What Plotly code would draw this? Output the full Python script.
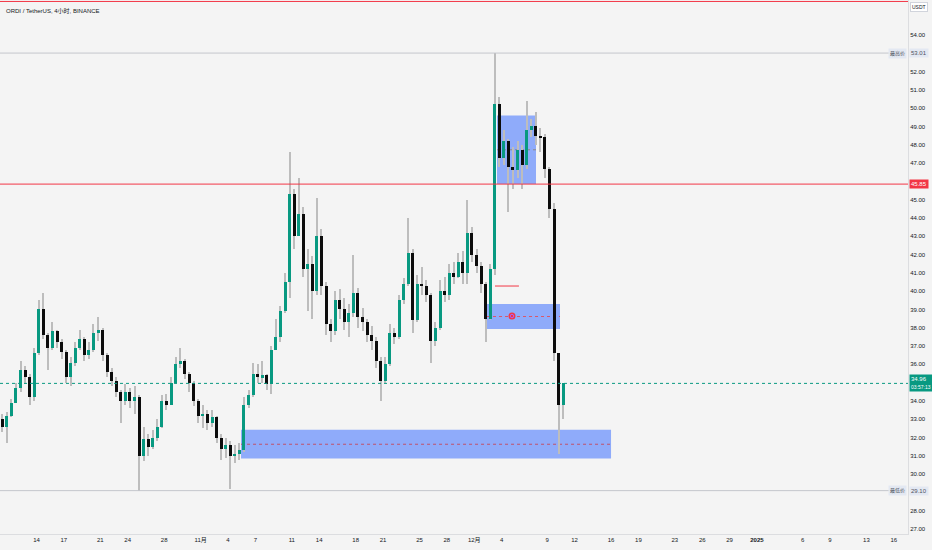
import pandas as pd
import plotly.graph_objects as go

# ORDI / USDT (grouped as 12h candles from 2024-10-10)
opens = [33.0, 32.6, 33.2, 33.9, 34.7, 35.7, 35.3, 34.2, 36.6, 39.0, 37.6, 36.9, 37.8, 37.2, 36.7, 35.3,
         36.1, 36.9, 37.4, 36.5, 36.8, 37.7, 37.9, 36.5, 35.6, 35.1, 34.5, 34.0, 34.5, 34.0, 34.2, 31.0,
         31.9, 31.5, 32.0, 32.6, 34.0, 33.8, 35.0, 36.0, 36.2, 35.5, 35.0, 34.0, 33.2, 33.3, 32.8, 33.1,
         32.0, 31.4, 31.6, 31.0, 31.1, 31.3, 33.8, 34.3, 35.5, 35.3, 35.4, 34.9, 36.8, 37.5, 38.9, 40.5,
         45.3, 43.0, 44.2, 41.2, 41.5, 40.0, 43.0, 40.3, 38.2, 37.8, 39.5, 39.0, 38.3, 38.8, 39.9, 38.6,
         38.3, 37.6, 37.3, 36.2, 35.1, 36.0, 37.7, 37.5, 39.5, 40.4, 42.1, 38.4, 40.4, 40.3, 39.8, 37.3,
         38.0, 40.0, 39.8, 41.0, 40.8, 41.6, 41.0, 43.2, 42.0, 41.4, 40.4, 38.5, 41.2, 50.2, 47.3, 48.2,
         46.8, 46.6, 47.7, 46.9, 48.8, 49.0, 48.5, 48.4, 46.7, 44.5, 36.6, 33.8]
highs = [33.3, 33.4, 34.1, 35.0, 36.2, 35.9, 35.5, 36.9, 39.5, 39.9, 37.7, 38.3, 37.9, 37.4, 36.8, 36.4,
         37.2, 37.9, 37.5, 37.2, 38.2, 38.6, 38.0, 36.6, 35.8, 35.3, 34.6, 34.9, 34.7, 34.8, 34.3, 32.6,
         32.2, 32.4, 33.0, 34.3, 34.4, 35.3, 36.4, 36.9, 36.3, 35.6, 35.1, 34.1, 33.8, 33.5, 33.5, 33.2,
         32.2, 32.0, 31.8, 31.6, 31.7, 34.2, 34.6, 36.1, 36.0, 36.2, 35.5, 37.0, 38.5, 39.2, 41.0, 47.6,
         45.6, 46.2, 44.6, 42.3, 41.9, 45.1, 43.4, 40.5, 38.5, 40.0, 40.1, 39.6, 39.3, 42.0, 40.2, 39.1,
         38.5, 38.1, 37.5, 36.4, 36.4, 38.2, 38.0, 39.8, 40.7, 44.0, 42.3, 40.9, 41.3, 40.6, 39.9, 38.3,
         40.6, 40.8, 41.5, 41.6, 42.1, 42.2, 45.0, 43.5, 42.3, 41.6, 40.5, 41.5, 53.01, 50.6, 48.8, 48.3,
         47.9, 48.2, 48.0, 50.4, 49.4, 49.8, 48.9, 48.6, 46.8, 44.8, 36.6, 35.0]
lows = [32.3, 31.7, 33.1, 33.9, 34.5, 34.9, 33.8, 34.0, 36.5, 37.4, 35.7, 36.8, 36.9, 36.3, 35.0, 34.8,
        35.9, 36.8, 36.2, 36.3, 36.7, 37.3, 36.2, 35.3, 34.8, 34.2, 32.8, 33.8, 33.6, 33.3, 29.1, 30.7,
        31.0, 31.4, 31.8, 32.5, 33.5, 33.8, 34.9, 35.8, 35.2, 34.5, 33.7, 32.8, 32.5, 32.4, 32.6, 31.7,
        30.8, 30.9, 29.2, 30.6, 30.8, 31.2, 33.6, 34.2, 35.0, 35.0, 34.6, 34.4, 37.0, 37.2, 38.8, 39.6,
        42.3, 43.0, 40.8, 38.9, 38.5, 39.8, 39.8, 37.6, 37.2, 37.6, 38.5, 37.9, 37.5, 38.6, 38.0, 37.8,
        37.2, 36.8, 35.8, 34.0, 35.0, 35.9, 37.1, 37.4, 39.3, 40.3, 37.7, 38.3, 39.8, 39.4, 36.1, 37.0,
        37.9, 39.4, 39.5, 40.4, 40.7, 40.4, 40.4, 41.6, 41.0, 39.9, 37.2, 38.4, 40.9, 46.8, 46.9, 44.3,
        45.6, 46.2, 45.6, 46.7, 48.4, 48.0, 47.6, 46.2, 44.0, 36.2, 31.1, 33.0]
closes = [32.6, 33.2, 33.9, 34.7, 35.7, 35.3, 34.2, 36.6, 39.0, 37.6, 36.9, 37.8, 37.2, 36.7, 35.3, 36.1,
          36.9, 37.4, 36.5, 36.8, 37.7, 37.9, 36.5, 35.6, 35.1, 34.5, 34.0, 34.5, 34.0, 34.2, 31.0, 31.9,
          31.5, 32.0, 32.6, 34.0, 33.8, 35.0, 36.0, 36.2, 35.5, 35.0, 34.0, 33.2, 33.3, 32.8, 33.1, 32.0,
          31.4, 31.6, 31.0, 31.1, 31.3, 33.8, 34.3, 35.5, 35.3, 35.4, 34.9, 36.8, 37.5, 38.9, 40.5, 45.3,
          43.0, 44.2, 41.2, 41.5, 40.0, 43.0, 40.3, 38.2, 37.8, 39.5, 39.0, 38.3, 38.8, 39.9, 38.6, 38.3,
          37.6, 37.3, 36.2, 35.1, 36.0, 37.7, 37.5, 39.5, 40.4, 42.1, 38.4, 40.4, 40.3, 39.8, 37.3, 38.0,
          40.0, 39.8, 41.0, 40.8, 41.6, 41.0, 43.2, 42.0, 41.4, 40.4, 38.5, 41.2, 50.2, 47.3, 48.2, 46.8,
          46.6, 47.7, 46.9, 48.8, 49.0, 48.5, 48.4, 46.7, 44.5, 36.6, 33.8, 34.96]
assert len(opens) == len(highs) == len(lows) == len(closes) == 124

last_price = 34.96
high_price = 53.01
low_price = 29.10
resistance = 45.85
top_line = 55.83

tick_dates = ["2024-10-10", "2024-10-14", "2024-10-17", "2024-10-21", "2024-10-24", "2024-10-28",
              "2024-11-01", "2024-11-04", "2024-11-07", "2024-11-11", "2024-11-14", "2024-11-18",
              "2024-11-21", "2024-11-25", "2024-11-28", "2024-12-01", "2024-12-04", "2024-12-09",
              "2024-12-12", "2024-12-16", "2024-12-19", "2024-12-23", "2024-12-26", "2024-12-29",
              "2025-01-01", "2025-01-06", "2025-01-09", "2025-01-13", "2025-01-16"]
tick_text = ["10", "14", "17", "21", "24", "28", "11月", "4", "7", "11", "14", "18", "21", "25", "28",
             "12月", "4", "9", "12", "16", "19", "23", "26", "29", "<b>2025</b>", "6", "9", "13", "16"]

# boxes drawn on the chart: (start, end, bottom, top)
box_top = ("2024-12-03 12:00", "2024-12-07 18:30", 45.85, 49.60)
box_mid = ("2024-12-02 09:40", "2024-12-10 09:40", 37.93, 39.30)
box_low = ("2024-11-05 10:20", "2024-12-16 00:00", 30.85, 32.42)
red_stub = ("2024-12-03 06:40", "2024-12-05 21:40", 40.28)
alert_pos = ("2024-12-05 03:20", 38.64)

UP = "#089981"
DOWN = "#0c0c0c"
WICK = "#bdbdbd"
RED = "#f23645"
BOX = "rgba(41,98,255,0.5)"
BG = "#f4f4f4"

times = pd.date_range("2024-10-10 06:00", periods=len(closes), freq="12h")
day_ms = 86400000
px_ms = day_ms / 9.12

body_base = [min(o, c) for o, c in zip(opens, closes)]
body_h = [max(abs(c - o), 0.06) for o, c in zip(opens, closes)]
body_col = [UP if c >= o else DOWN for o, c in zip(opens, closes)]

fig = go.Figure()
fig.add_trace(go.Bar(x=times, y=[h - l for h, l in zip(highs, lows)], base=lows,
                     width=px_ms * 1.0, marker=dict(color=WICK, line=dict(width=0)),
                     hoverinfo="skip"))
fig.add_trace(go.Bar(x=times, y=body_h, base=body_base, width=px_ms * 3.0,
                     marker=dict(color=body_col, line=dict(width=0)), hoverinfo="skip"))

# horizontal lines
fig.add_hline(y=top_line, line=dict(color=RED, width=1))
fig.add_hline(y=resistance, line=dict(color=RED, width=1))
fig.add_hline(y=last_price, line=dict(color=UP, width=1, dash="dot"))
for p in (high_price, low_price):
    fig.add_shape(type="line", xref="paper", x0=0, x1=0.985, y0=p, y1=p,
                  line=dict(color="#c4c6cc", width=1))

# rectangles with their middle lines
for (x0, x1, y0, y1), mid_col in ((box_top, "#8a8a8a"), (box_mid, "#d9586a"), (box_low, "#c0506a")):
    fig.add_shape(type="rect", x0=x0, x1=x1, y0=y0, y1=y1, fillcolor=BOX, line=dict(width=0),
                  layer="below")
    fig.add_shape(type="line", x0=x0, x1=x1, y0=(y0 + y1) / 2, y1=(y0 + y1) / 2,
                  line=dict(color=mid_col, width=1, dash="dot"), layer="below")
fig.add_shape(type="line", x0=red_stub[0], x1=red_stub[1], y0=red_stub[2], y1=red_stub[2],
              line=dict(color=RED, width=1))
fig.add_trace(go.Scatter(x=[alert_pos[0]], y=[alert_pos[1]], mode="markers",
                         marker=dict(symbol="circle", size=7, color=RED,
                                     line=dict(color=RED, width=0)), hoverinfo="skip"))
fig.add_trace(go.Scatter(x=[alert_pos[0]], y=[alert_pos[1]], mode="markers",
                         marker=dict(symbol="circle-open", size=3.5,
                                     line=dict(color="white", width=1)), hoverinfo="skip"))

font_tv = "Liberation Sans, Noto Sans CJK SC, sans-serif"


# price labels on the axis
def axis_label(y, text, bg, fg):
    fig.add_annotation(x=1, xref="paper", xanchor="left", xshift=1, y=y, yref="y",
                       text=text, showarrow=False, bgcolor=bg, borderpad=1,
                       font=dict(size=6, color=fg, family=font_tv), align="left")


axis_label(resistance, "45.85", RED, "white")
axis_label(last_price, "34.96<br><span style='font-size:5px'>03:57:13</span>", UP, "white")
axis_label(high_price, "53.01", "#e3e8f2", "#50535e")
axis_label(low_price, "29.10", "#e3e8f2", "#50535e")
for p, t in ((high_price, "最高价"), (low_price, "最低价")):
    fig.add_annotation(x=1, xref="paper", xanchor="right", xshift=-1, y=p, yref="y", text=t,
                       showarrow=False, bgcolor="#e3e8f2", borderpad=1,
                       font=dict(size=5, color="#50535e", family=font_tv))
fig.add_annotation(x=1, xref="paper", xanchor="left", xshift=2, y=1, yref="paper", yanchor="top",
                   yshift=-2, text="USDT", showarrow=False, bgcolor="white", bordercolor="#d1d4dc",
                   borderwidth=1, borderpad=1, font=dict(size=5, color="#131722", family=font_tv))
fig.add_annotation(x=0, xref="paper", xanchor="left", xshift=4, y=1, yref="paper", yanchor="top",
                   yshift=-5, text="ORDI / TetherUS, 4小时, BINANCE", showarrow=False,
                   font=dict(size=6, color="#131722", family=font_tv))

y_ticks = [v for v in range(27, 55) if v not in (29, 35, 46, 53)]

fig.update_layout(
    width=932, height=550,
    margin=dict(l=0, r=24, t=0, b=16, autoexpand=False),
    paper_bgcolor=BG, plot_bgcolor=BG,
    barmode="overlay", bargap=0,
    showlegend=False,
    hovermode=False,
    font=dict(family=font_tv, size=6, color="#131722"),
    xaxis=dict(type="date", range=["2024-10-10 00:00", "2025-01-17 13:30"],
               tickvals=tick_dates, ticktext=tick_text, showgrid=False, zeroline=False,
               showline=True, linecolor="#dcdde0", linewidth=1, ticks="",
               tickfont=dict(size=6, color="#131722")),
    yaxis=dict(side="right", range=[26.73, 55.91], tickvals=y_ticks,
               tickformat=".2f", showgrid=False, zeroline=False, showline=True,
               linecolor="#dcdde0", linewidth=1, ticks="",
               tickfont=dict(size=6, color="#131722")),
)

fig.write_html("out.html", config={"displayModeBar": False},
               post_script="document.body.style.margin='0';document.body.style.overflow='hidden';")
